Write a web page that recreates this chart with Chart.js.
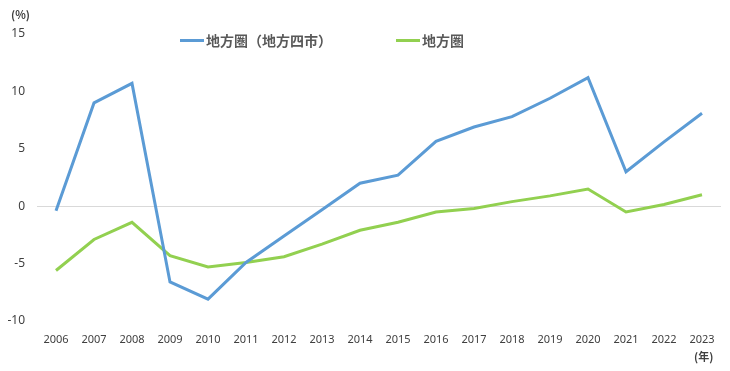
<!DOCTYPE html>
<html>
<head>
<meta charset="utf-8">
<script src="https://cdn.jsdelivr.net/npm/chart.js@4/dist/chart.umd.min.js"></script>
<style>
  body { margin: 0; background: #fff; }
  #wrap { position: relative; width: 730px; height: 371px; }
  .note { position: absolute; font: bold 11px "Noto Sans CJK JP", sans-serif; color: #404040; }
  #legend { position: absolute; top: 30px; left: 180px; font: bold 14px "Noto Sans CJK JP", sans-serif; color: #595959; }
  #legend span.item { position: absolute; white-space: nowrap; display: flex; align-items: center; }
  #legend i { display: inline-block; width: 24px; height: 3px; margin-right: 2px; }
</style>
</head>
<body>
<div id="wrap">
  <canvas id="chart" width="730" height="371"></canvas>
  <div class="note" style="left:11px;top:6px">(%)</div>
  <div class="note" style="left:694px;top:348px">(年)</div>
  <div id="legend"></div>
</div>
<script>
// data
const years = ['2006','2007','2008','2009','2010','2011','2012','2013','2014','2015','2016','2017','2018','2019','2020','2021','2022','2023'];
const chihoYonshi = [-0.4, 9.0, 10.7, -6.6, -8.1, -4.9, -2.6, -0.3, 2.0, 2.7, 5.65, 6.9, 7.8, 9.4, 11.2, 3.0, 5.6, 8.1];
const chihoken = [-5.6, -2.9, -1.4, -4.3, -5.3, -4.9, -4.4, -3.3, -2.1, -1.4, -0.5, -0.2, 0.4, 0.9, 1.5, -0.5, 0.15, 1.0];
const seriesNames = ['地方圏（地方四市）', '地方圏'];
const colors = ['#5B9BD5', '#92D050'];

const legend = document.getElementById('legend');
[0, 216].forEach((x, i) => {
  const s = document.createElement('span');
  s.className = 'item';
  s.style.left = x + 'px';
  s.innerHTML = `<i style="background:${colors[i]}"></i>${seriesNames[i]}`;
  legend.appendChild(s);
});

new Chart(document.getElementById('chart'), {
  type: 'line',
  data: {
    labels: years,
    datasets: [
      { label: seriesNames[0], data: chihoYonshi, borderColor: colors[0], borderWidth: 3, pointRadius: 0, tension: 0 },
      { label: seriesNames[1], data: chihoken, borderColor: colors[1], borderWidth: 3, pointRadius: 0, tension: 0 }
    ]
  },
  options: {
    responsive: false,
    animation: false,
    layout: { padding: { top: 34, right: 9, left: 0, bottom: 0 } },
    plugins: { legend: { display: false }, tooltip: { enabled: false } },
    scales: {
      x: {
        offset: true,
        grid: { display: false },
        border: { display: false },
        ticks: { color: '#404040', font: { family: 'Noto Sans', size: 11 }, padding: 4, maxRotation: 0 },
        afterFit: s => { s.height = 50; }
      },
      y: {
        min: -10, max: 15,
        grid: { color: c => c.tick.value === 0 ? '#d9d9d9' : 'transparent', drawTicks: false },
        border: { display: false },
        ticks: { stepSize: 5, color: '#404040', font: { family: 'Noto Sans', size: 12 }, padding: 12 },
        afterFit: s => { s.width = 37; }
      }
    }
  }
});
</script>
</body>
</html>
